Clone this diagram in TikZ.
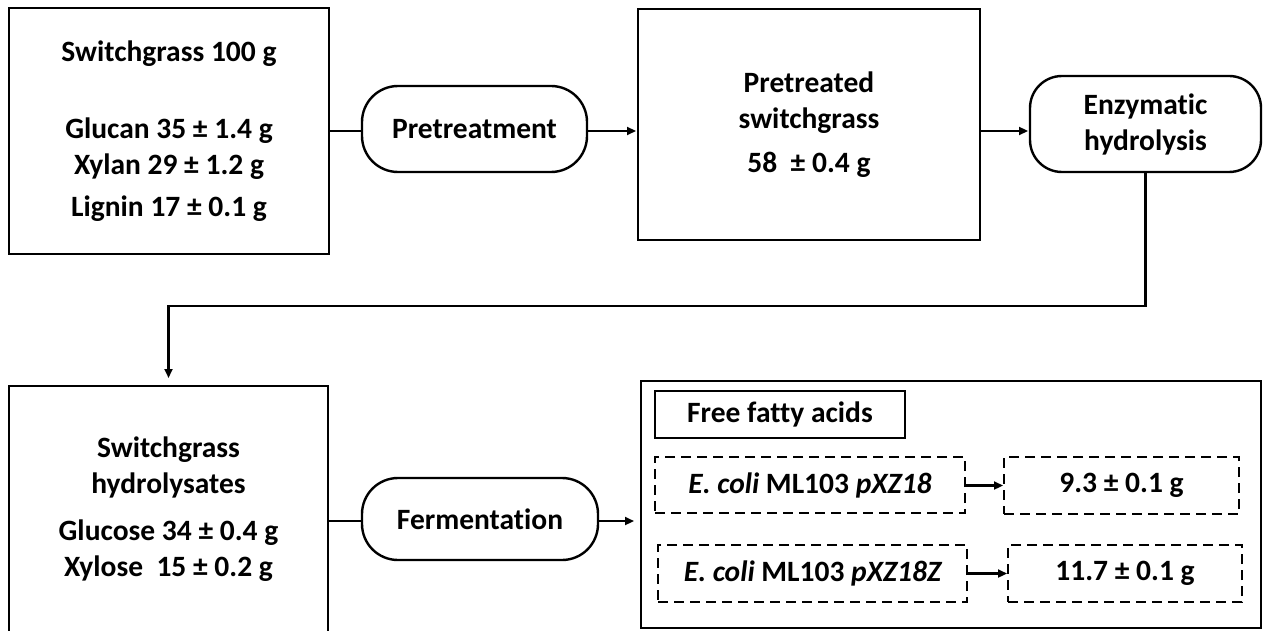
\documentclass[tikz,border=0pt]{standalone}
\usepackage{fontspec}
\setmainfont{Carlito}[Ligatures={NoCommon,NoContextual,NoRequired}]
\usetikzlibrary{arrows.meta,calc}
\begin{document}
\begin{tikzpicture}[x=1pt,y=-1pt,
  every node/.style={inner sep=0pt,outer sep=0pt,font=\fontsize{29.5}{36}\selectfont\bfseries,align=center},
  solidbox/.style={draw,line width=2.8pt},
  pill/.style={draw,line width=2.4pt,rounded corners=36pt},
  dashbox/.style={draw,line width=2.6pt,dash pattern=on 10pt off 6pt},
  conn/.style={line width=2.2pt},
  arr/.style={conn,-{Triangle[length=9pt,width=8pt]}}]
\fill[white] (0,0) rectangle (1263,631);
\useasboundingbox (0,0) rectangle (1263,631);
% top row
\node[solidbox,minimum width=320pt,minimum height=246pt] (b1) at (169,131)
  {Switchgrass 100 g\\[41pt]Glucan 35 ± 1.4 g\\Xylan 29 ± 1.2 g\\[6pt]Lignin 17 ± 0.1 g};
\node[pill,minimum width=225pt,minimum height=86pt] (pre) at (474.5,129) {Pretreatment};
\node[solidbox,minimum width=342pt,minimum height=231pt] (b2) at (809,124.5)
  {Pretreated\\switchgrass\\[8pt]58~\ ± 0.4 g};
\node[pill,rounded corners=32pt,minimum width=231pt,minimum height=96pt] (enz) at (1145.5,124)
  {Enzymatic\\hydrolysis};
% bottom row
\node[solidbox,minimum width=319pt,minimum height=246pt] (b3) at (168.5,509)
  {Switchgrass\\hydrolysates\\[11pt]Glucose 34 ± 0.4 g\\Xylose~\ 15 ± 0.2 g};
\node[pill,minimum width=236pt,minimum height=82pt] (fer) at (480,519) {Fermentation};
\node[solidbox,minimum width=620pt,minimum height=247pt] (out) at (951,504.5) {};
\node[solidbox,line width=2.6pt,minimum width=250pt,minimum height=47pt] (ffa) at (780,414.5) {Free fatty acids};
\node[dashbox,minimum width=310pt,minimum height=56pt] (d1) at (810,485)
  {\itshape E. coli\upshape{} ML103 \itshape pXZ18};
\node[dashbox,minimum width=309pt,minimum height=57pt] (d2) at (812.5,573.5)
  {\itshape E. coli\upshape{} ML103 \itshape pXZ18Z};
\node[dashbox,minimum width=235pt,minimum height=57pt] (r1) at (1121.5,485.5) {9.3 ± 0.1 g};
\node[dashbox,minimum width=234pt,minimum height=57pt] (r2) at (1125,573.5) {11.7 ± 0.1 g};
% connectors
\coordinate (y1) at (0,131);
\coordinate (y2) at (0,306);
\coordinate (y3) at (0,521);
\draw[conn] (b1.east |- y1) -- (pre.west |- y1);
\draw[arr,shorten >=2pt] (pre.east |- y1) -- (b2.west |- y1);
\draw[arr,shorten >=2pt] (b2.east |- y1) -- (enz.west |- y1);
\draw[arr,shorten >=8pt] (enz.south) -- (enz.south |- y2) -- (b3.north |- y2) -- (b3.north);
\draw[conn] (b3.east |- y3) -- (fer.west |- y3);
\draw[arr,shorten >=7pt] (fer.east |- y3) -- (out.west |- y3);
\draw[arr,shorten >=1pt] (d1.east |- r1.west) -- (r1.west);
\draw[arr,shorten >=1pt] (d2.east) -- (r2.west);
\end{tikzpicture}
\end{document}
